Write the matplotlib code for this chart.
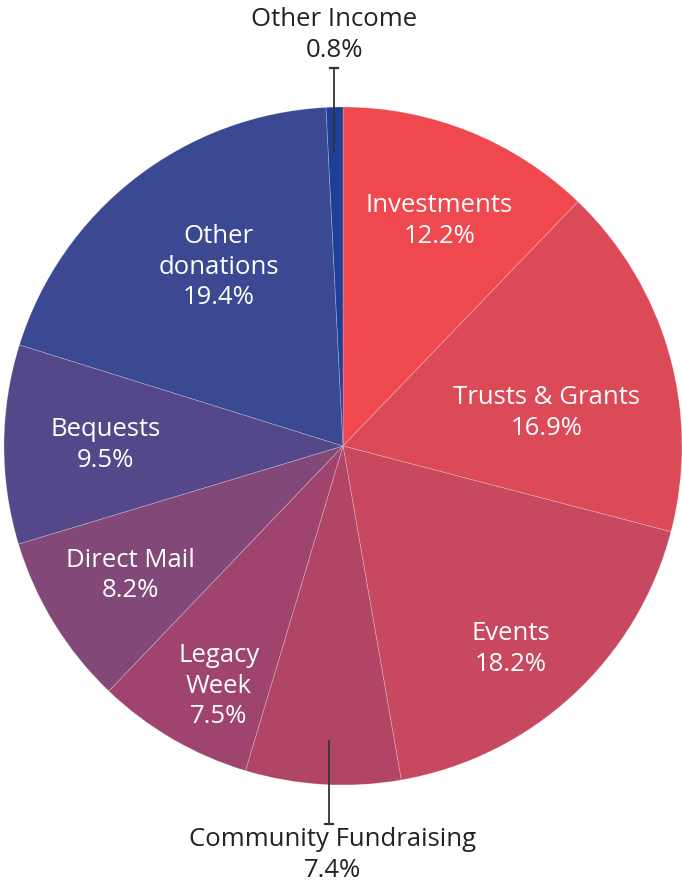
import numpy as np
import matplotlib.pyplot as plt

plt.rcParams['font.family'] = ['Open Sans', 'DejaVu Sans']

# Anteile der Einnahmen (im Uhrzeigersinn ab 12 Uhr)
categories = ["Investments", "Trusts & Grants", "Events", "Community Fundraising",
              "Legacy\nWeek", "Direct Mail", "Bequests", "Other\ndonations", "Other Income"]
shares = [12.2, 16.9, 18.2, 7.4, 7.5, 8.2, 9.5, 19.4, 0.8]

colors = ["#EF484F", "#DB4A56", "#C7485F", "#B04566", "#9E446E",
          "#824978", "#55488A", "#3B4892", "#1E3F96"]

# Beschriftungen innen: Abstand (Anteil des Radius) und Winkelkorrektur in Grad
label_r = [0.73, 0.61, 0.77, None, 0.79, 0.73, 0.70, 0.65, None]
label_dang = [1.0, 5.7, 2.6, 0, -2.6, 0.8, 0.7, 3.4, 0]

W, H = 682, 885
cx, cy, R = 343, H - 446, 339
dy_txt = -3  # Textblock etwas tiefer setzen

fig = plt.figure(figsize=(W / 100, H / 100), dpi=100)
ax = fig.add_axes([0, 0, 1, 1])
wedges, _ = ax.pie(shares, colors=colors, startangle=90, counterclock=False,
                   radius=R, center=(cx, cy),
                   wedgeprops=dict(edgecolor=(1, 1, 1, 0.25), linewidth=0.6))
ax.set_xlim(0, W)
ax.set_ylim(0, H)
ax.set_aspect('equal')
ax.axis('off')

fs = 18.5
ls = 1.28
for w, name, val, r, da in zip(wedges, categories, shares, label_r, label_dang):
    mid = np.deg2rad((w.theta1 + w.theta2) / 2 - da)
    if r is None:
        continue
    x = cx + r * R * np.cos(mid)
    y = cy + r * R * np.sin(mid) + dy_txt
    ax.text(x, y, f"{name}\n{val}%", ha='center', va='center', color='white',
            fontsize=fs, linespacing=ls)

# Beschriftungen außen mit Hinweislinie
line_col = "#333333"
# Other Income (oben)
w = wedges[8]
mid = np.deg2rad((w.theta1 + w.theta2) / 2)
lx = cx + R * np.cos(mid)
y0, y1 = cy + 0.87 * R, cy + 1.115 * R
ax.plot([lx, lx], [y0, y1], color=line_col, lw=1.3)
ax.plot([lx - 4, lx + 4], [y1, y1], color=line_col, lw=1.6)
ax.text(lx, H - 32 + dy_txt, f"Other Income\n{shares[8]}%", ha='center', va='center',
        color='#222222', fontsize=fs, linespacing=ls)

# Community Fundraising (unten)
w = wedges[3]
mid = np.deg2rad((w.theta1 + w.theta2) / 2)
lx = cx + 0.7 * R * np.cos(mid)
y0, y1 = cy - 0.87 * R, cy - 1.115 * R
ax.plot([lx, lx], [y0, y1], color=line_col, lw=1.3)
ax.plot([lx - 4, lx + 4], [y1, y1], color=line_col, lw=1.6)
ax.text(lx + 4, 30, f"{categories[3]}\n{shares[3]}%", ha='center', va='center',
        color='#222222', fontsize=fs, linespacing=ls)

fig.savefig("out.png", dpi=100, facecolor='white')
